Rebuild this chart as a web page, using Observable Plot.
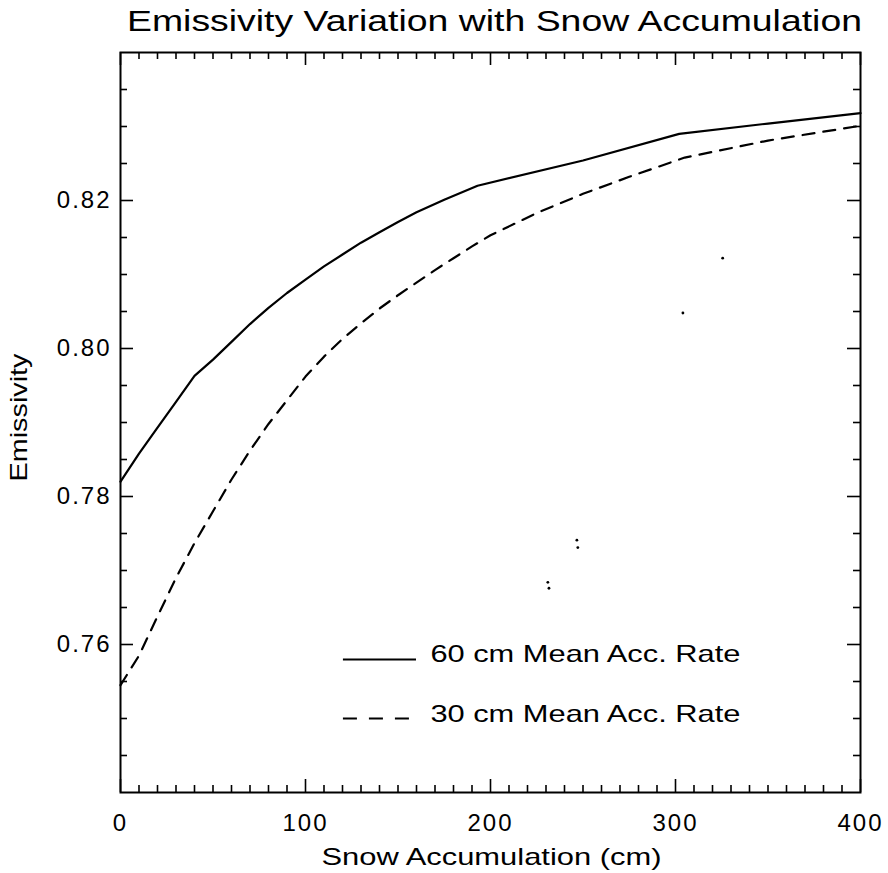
<!DOCTYPE html>
<html>
<head>
<meta charset="utf-8">
<script src="https://cdn.jsdelivr.net/npm/d3@7"></script>
<script src="https://cdn.jsdelivr.net/npm/@observablehq/plot@0.6"></script>
<style>
  html, body { margin: 0; padding: 0; background: #fff; }
  #chart svg { display: block; font-family: "Liberation Sans", Arial, sans-serif; }
  #chart svg text { letter-spacing: 2px; }
</style>
</head>
<body>
<div id="chart"></div>
<script>
// ---------- data ----------
const titleText = "Emissivity Variation with Snow Accumulation";
const xLabelText = "Snow Accumulation (cm)";
const yLabelText = "Emissivity";
const legendLabels = ["60 cm Mean Acc. Rate", "30 cm Mean Acc. Rate"];

// 60 cm mean accumulation rate (solid)
const snow60 = [0, 10, 20, 30, 40, 50, 60, 70, 80, 90, 100, 110, 120, 130, 140, 150, 160, 175, 193, 250, 302, 350, 400];
const emis60 = [0.7820, 0.7858, 0.7893, 0.7928, 0.7963, 0.7985, 0.8009, 0.8033, 0.8055, 0.8075, 0.8093, 0.8111, 0.8127, 0.8143, 0.8157, 0.8171, 0.8184, 0.8201, 0.8220, 0.8254, 0.8290, 0.8304, 0.8318];

// 30 cm mean accumulation rate (dashed)
const snow30 = [0, 10, 20, 30, 40, 50, 60, 70, 80, 90, 100, 110, 120, 130, 140, 150, 160, 170, 180, 190, 200, 225, 250, 275, 305, 350, 400];
const emis30 = [0.7545, 0.7585, 0.7638, 0.7690, 0.7737, 0.7780, 0.7823, 0.7862, 0.7898, 0.7930, 0.7962, 0.7989, 0.8013, 0.8034, 0.8054, 0.8072, 0.8089, 0.8106, 0.8122, 0.8138, 0.8153, 0.8183, 0.8209, 0.8232, 0.8258, 0.8281, 0.8301];

// small specks visible in the scanned figure
const speckX = [325.5, 304, 246.7, 247.2, 231, 231.6];
const speckY = [0.8122, 0.8048, 0.7741, 0.7731, 0.7684, 0.7676];

// axes
const xDomain = [0, 400];
const yDomain = [0.74, 0.84];
const xMajorTicks = [0, 100, 200, 300, 400];
const xMinorTicks = [10,20,30,40,50,60,70,80,90,110,120,130,140,150,160,170,180,190,210,220,230,240,250,260,270,280,290,310,320,330,340,350,360,370,380,390];
const yMajorTicks = [0.76, 0.78, 0.80, 0.82];
const yMinorTicks = [0.745, 0.75, 0.755, 0.765, 0.77, 0.775, 0.785, 0.79, 0.795, 0.805, 0.81, 0.815, 0.825, 0.83, 0.835];

// ---------- layout ----------
const W = 888, H = 873;
const mL = 120, mR = 28, mT = 52, mB = 81;
const plotW = W - mL - mR, plotH = H - mT - mB;
const MAJOR = 13, MINOR = 7;

const line60 = snow60.map((x, i) => ({x, y: emis60[i]}));
const line30 = snow30.map((x, i) => ({x, y: emis30[i]}));
const specks = speckX.map((x, i) => ({x, y: speckY[i]}));

// legend placement (data units)
const LEG_X1 = 120.5, LEG_X2 = 160, LEG_TX = 167.5;
const LEG_LINE_Y = [0.75797, 0.7500];
const LEG_TEXT_Y = [0.7587, 0.7506];

const tickStyle = {stroke: "black", strokeWidth: 1.6};

const chart = Plot.plot({
  width: W,
  height: H,
  marginLeft: mL,
  marginRight: mR,
  marginTop: mT,
  marginBottom: mB,
  style: {fontSize: "24px", color: "black", background: "white"},
  x: {domain: xDomain, ticks: xMajorTicks, tickSize: 0, tickPadding: 21, label: null},
  y: {domain: yDomain, ticks: yMajorTicks, tickSize: 0, tickPadding: 9, tickFormat: d3.format(".2f"), label: null},
  marks: [
    // inward ticks on all four sides
    Plot.tickX(xMinorTicks, {x: d => d, insetTop: plotH - MINOR, ...tickStyle}),
    Plot.tickX(xMinorTicks, {x: d => d, insetBottom: plotH - MINOR, ...tickStyle}),
    Plot.tickX(xMajorTicks, {x: d => d, insetTop: plotH - MAJOR, ...tickStyle}),
    Plot.tickX(xMajorTicks, {x: d => d, insetBottom: plotH - MAJOR, ...tickStyle}),
    Plot.tickY(yMinorTicks, {y: d => d, insetRight: plotW - MINOR, ...tickStyle}),
    Plot.tickY(yMinorTicks, {y: d => d, insetLeft: plotW - MINOR, ...tickStyle}),
    Plot.tickY(yMajorTicks, {y: d => d, insetRight: plotW - MAJOR, ...tickStyle}),
    Plot.tickY(yMajorTicks, {y: d => d, insetLeft: plotW - MAJOR, ...tickStyle}),
    Plot.frame({stroke: "black", strokeWidth: 2}),

    // curves
    Plot.line(line60, {x: "x", y: "y", stroke: "black", strokeWidth: 2.2}),
    Plot.line(line30, {x: "x", y: "y", stroke: "black", strokeWidth: 2.2, strokeDasharray: "12,9"}),
    Plot.dot(specks, {x: "x", y: "y", r: 1.4, fill: "black", stroke: "none"}),

    // legend
    Plot.ruleY([LEG_LINE_Y[0]], {y: d => d, x1: LEG_X1, x2: LEG_X2, stroke: "black", strokeWidth: 2}),
    Plot.ruleY([LEG_LINE_Y[1]], {y: d => d, x1: LEG_X1, x2: LEG_X2 - 2, stroke: "black", strokeWidth: 2, strokeDasharray: "14,12"}),
    Plot.text(legendLabels, {x: LEG_TX, y: (d, i) => LEG_TEXT_Y[i], text: d => d, textAnchor: "start", lineAnchor: "middle", fontSize: 24, fill: "black"}),

    // title and axis titles
    Plot.text([titleText], {frameAnchor: "top", dy: -31, dx: 4, text: d => d, textAnchor: "middle", lineAnchor: "middle", fontSize: 30, fill: "black"}),
    Plot.text([xLabelText], {frameAnchor: "bottom", dy: 65, dx: 1, text: d => d, textAnchor: "middle", lineAnchor: "middle", fontSize: 24, fill: "black"}),
    Plot.text([yLabelText], {frameAnchor: "left", dx: -101, dy: -5, rotate: -90, text: d => d, textAnchor: "middle", lineAnchor: "middle", fontSize: 24, fill: "black"})
  ]
});

document.getElementById("chart").appendChild(chart);

// stretch the wide stroke-font texts to the widths seen in the reference
const widths = new Map([
  [titleText, 735],
  [xLabelText, 340],
  [yLabelText, 128],
  [legendLabels[0], 310],
  [legendLabels[1], 310]
]);
d3.select(chart).selectAll("text").each(function() {
  const t = this.textContent;
  if (widths.has(t)) {
    d3.select(this).attr("textLength", widths.get(t)).attr("lengthAdjust", "spacingAndGlyphs").style("letter-spacing", "0px");
  }
});
</script>
</body>
</html>
